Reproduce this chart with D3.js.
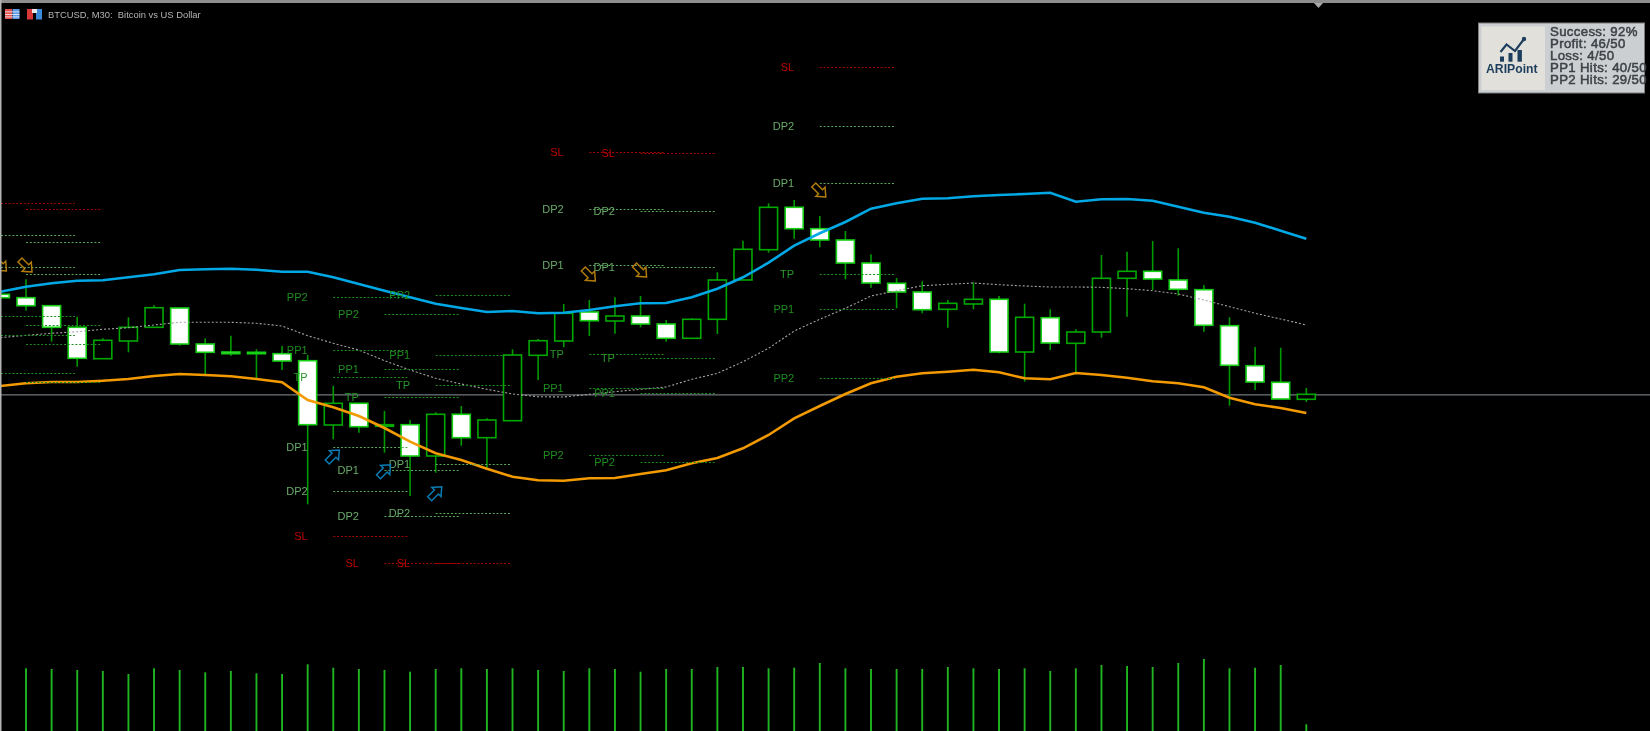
<!DOCTYPE html>
<html>
<head>
<meta charset="utf-8">
<title>BTCUSD, M30</title>
<script src="https://cdn.jsdelivr.net/npm/d3@7"></script>
<style>
html,body{margin:0;padding:0;background:#000;overflow:hidden}
svg{display:block;filter:blur(0.35px)}
text{font-family:"Liberation Sans",Arial,sans-serif}
</style>
</head>
<body>
<svg id="chart" width="1650" height="731"></svg>
<script>
const open  = [436.7,433.3,425.3,403.7,372.3,390,403.7,423,387,379,378.7,377.3,370.3,306,327.7,304.7,306.3,275,316.7,293.3,310.3,375.7,390,419,410,415,407,392.7,411.7,451,481.3,523.7,502.3,491,468,447.7,439,421.7,427,431.7,379,413.3,387.7,399,452.7,459.7,451,441.3,405.3,365.3,348.7,331.7];
const high  = [436.7,451.7,425.3,414.3,392.7,413.7,425.7,423,392.7,395.3,381.7,385,376,345.3,327.7,320,311,318.7,325,312.7,381.7,392,427,431,433.7,435,411,412.7,458.7,490.3,527.7,531,515,500,476.7,453,449.7,431,448.7,435,427.3,421.7,401.7,476,479.3,490,482.7,446,413.7,384,383.3,343];
const low   = [433.3,420.3,389.3,364.3,372.3,378.7,403.7,385.3,357,375.3,352.7,361,226.7,291.7,298.3,278.3,235,258.3,285.3,262.7,310.3,351,383.7,395,397.3,403.7,389.3,392,397,451,478.3,492.3,483.7,451.7,443.3,422.7,417.7,403.3,421.7,377.7,349.3,381,358.7,393.3,414.3,441,435.3,399.3,325.3,341,332,329];
const close = [433.3,425.3,403.7,372.7,390.7,403.7,423.3,387,378.7,377.3,377.3,370,306.3,327.7,304.3,306.3,275,316.7,293.3,311,376,390.3,417.7,410.3,415,407,392.7,411.7,451,481.7,523.7,502.3,491,468,448,439,421.3,427.7,431.7,379,413.7,388,399,452.7,459.7,452,441.7,405.7,365.7,349,332,336.7];
const volume = [0,62.7,62,61,60,57,62.7,61,58.7,60,57.7,57,66.7,63.3,62,61,59.3,62,62.7,62,62.7,61,60,62.7,62,59.3,62,62,64,64,62.7,63.3,68,62.7,62,62,62,64,62.7,62,62.7,60,62.7,66,65,64,68,72,62.7,63.3,66,6.7];

const upperBand = [439.3,444.3,447.7,450.3,450.7,453.7,456.7,461,461.7,462.3,461.3,459.3,459.3,453.7,447,440.3,433.7,427.3,423,419,420,417.7,418.3,421,424.7,427.7,428,433.7,442.3,453.7,468.3,485.3,497.7,509,522.3,527.7,532.3,532.7,534.7,536,537,538.3,529.3,531.7,532,530.3,524.3,518.3,514.3,508.3,500.3,492.3];
const lowerBand = [345,347.7,349,349,350.3,352,355,357,356,354.7,352,348.7,331,323.7,315,303,289.3,277.7,271,262.3,254.3,250.7,250.3,252.7,253,257,260.7,267.7,273,282.7,296,312.7,325,337,347.7,354.3,357.7,359.3,361.3,358.7,352.7,351.7,358,356,353.3,349.7,347.7,343.7,333.3,326.7,323,318];
const midBand   = [393.3,395.7,397.7,399.3,401.7,403.3,406,408.7,408.7,408.7,407.7,405,395.3,387.7,381,370.3,361,352.7,347,341.7,337,334.3,334,336.7,339.3,341.7,344,351.7,357.7,369.3,382.7,400,411.7,422.7,435,440.3,445.3,446.7,448,446.3,445,444,444,443.7,442.3,440.3,437,431,424.3,417.7,412,406];

const bidPrice = 336.5;

const levelNames = ["SL","DP2","DP1","TP","PP1","PP2"];
const signalStart = [0,1,13,15,17,23,25,32];
const slLevels  = [527.7,521.7,195,167.7,167.7,579,578.3,663.7];
const dp2Levels = [495.7,488.7,239.7,215.3,218.3,521.7,519.7,605.3];
const dp1Levels = [464.3,456.7,283.7,260.7,267,466.3,463.7,547.7];
const tpLevels  = [415,406,354.3,333.7,346.3,376.7,372.7,456.7];
const pp1Levels = [396,387,380.7,361.7,376,343,338.3,422.3];
const pp2Levels = [358.3,349,433.7,416.7,436,275.7,269.3,352.7];

const sellArrowIndex = [0,1,23,25,32];
const sellArrowPrice = [466,465,456,460,540];
const buyArrowIndex  = [13,15,17];
const buyArrowPrice  = [275,260.3,238.3];

const titleText = "BTCUSD, M30:  Bitcoin vs US Dollar";
const statLines = ["Success: 92%","Profit: 46/50","Loss: 4/50","PP1 Hits: 40/50","PP2 Hits: 29/50"];
const brandName = "ARIPoint";

const svg = d3.select("#chart");
const W = 1650, H = 731;

const x = d3.scaleLinear().domain([0,51]).range([0.4,1306.3]);
const y = d3.scaleLinear().domain([0,731]).range([731,0]);
const yVol = d3.scaleLinear().domain([0,72]).range([731,659]);
const bodyWidth = 18;

const levelRows = [
  {name:"SL",  values:slLevels,  line:"#a80000", label:"#c00000"},
  {name:"DP2", values:dp2Levels, line:"#5aa85a", label:"#68aa68"},
  {name:"DP1", values:dp1Levels, line:"#5aa85a", label:"#68aa68"},
  {name:"TP",  values:tpLevels,  line:"#1c8e1c", label:"#2a962a"},
  {name:"PP1", values:pp1Levels, line:"#1c8e1c", label:"#1f8c1f"},
  {name:"PP2", values:pp2Levels, line:"#1c8e1c", label:"#1f8c1f"}
];

// Price line
svg.append("line").attr("x1",0).attr("x2",W).attr("y1",y(bidPrice)+0.4).attr("y2",y(bidPrice)+0.4)
  .attr("stroke","#8a949c").attr("stroke-width",1);

// Volume
svg.append("g").selectAll("line").data(volume.map((v,i)=>({v,i})).filter(d=>d.v>0)).join("line")
  .attr("x1",d=>x(d.i)).attr("x2",d=>x(d.i))
  .attr("y1",d=>yVol(d.v)).attr("y2",yVol(0))
  .attr("stroke","#20b420").attr("stroke-width",1.9);

// Candles
const candles = open.map((o,i)=>({i,o,h:high[i],l:low[i],c:close[i]}));
const cg = svg.append("g");
cg.selectAll("line").data(candles).join("line")
  .attr("x1",d=>x(d.i)).attr("x2",d=>x(d.i))
  .attr("y1",d=>y(d.h)).attr("y2",d=>y(d.l))
  .attr("stroke","#009a00").attr("stroke-width",1.6);
cg.selectAll("rect").data(candles).join("rect")
  .attr("x",d=>x(d.i)-bodyWidth/2).attr("width",bodyWidth)
  .attr("y",d=>y(Math.max(d.o,d.c)))
  .attr("height",d=>Math.abs(d.o-d.c))
  .attr("fill",d=>d.c<d.o?"#ffffff":"#000000")
  .attr("stroke",d=>d.c<d.o?"#16d016":"#00a800")
  .attr("stroke-width",1.6);

// Bands
const line = d3.line().x((d,i)=>x(i)).y(d=>y(d));
svg.append("path").attr("d",line(midBand)).attr("fill","none")
  .attr("stroke","#a4a4a4").attr("stroke-width",1.1).attr("stroke-dasharray","2,2");
svg.append("path").attr("d",line(upperBand)).attr("fill","none")
  .attr("stroke","#00a8e6").attr("stroke-width",2.6);
svg.append("path").attr("d",line(lowerBand)).attr("fill","none")
  .attr("stroke","#f29a00").attr("stroke-width",2.6);

// Signal levels
const span = 2.91;
levelRows.forEach(row=>{
  const g = svg.append("g");
  g.selectAll("line").data(row.values.map((v,k)=>({v,s:signalStart[k]}))).join("line")
    .attr("x1",d=>d.s===0?x(0)-26:x(d.s))
    .attr("x2",d=>x(d.s+span))
    .attr("y1",d=>Math.round(y(d.v))+0.5).attr("y2",d=>Math.round(y(d.v))+0.5)
    .attr("stroke",row.line).attr("stroke-width",1).attr("stroke-dasharray","2,1.8");
  g.selectAll("text").data(row.values.map((v,k)=>({v,s:signalStart[k]})).filter(d=>d.s>1)).join("text")
    .attr("x",d=>x(d.s-1)).attr("y",d=>y(d.v)+4)
    .attr("text-anchor","end").attr("font-size",11).attr("fill",row.label)
    .text(row.name);
});

// Signal arrows
const arrowPath = "M0,-8.5L6.5,-1L2.8,-1L2.8,8.5L-2.8,8.5L-2.8,-1L-6.5,-1Z";
svg.append("g").selectAll("path").data(sellArrowIndex.map((s,k)=>({s,p:sellArrowPrice[k]}))).join("path")
  .attr("d",arrowPath)
  .attr("transform",d=>`translate(${x(d.s)},${y(d.p)}) rotate(135)`)
  .attr("fill","none").attr("stroke","#b07c0c").attr("stroke-width",1.5);
svg.append("g").selectAll("path").data(buyArrowIndex.map((s,k)=>({s,p:buyArrowPrice[k]}))).join("path")
  .attr("d",arrowPath)
  .attr("transform",d=>`translate(${x(d.s)},${y(d.p)}) rotate(45)`)
  .attr("fill","none").attr("stroke","#0a7cb4").attr("stroke-width",1.5);

// Window chrome
svg.append("rect").attr("x",0).attr("y",0).attr("width",W).attr("height",3).attr("fill","#8e8e8e");
svg.append("rect").attr("x",0).attr("y",0).attr("width",1.5).attr("height",H).attr("fill","#b4b4b4");
svg.append("path").attr("d","M1314,3L1323,3L1318.5,8Z").attr("fill","#a8a8a8");

// Header icons and title
const icon1 = svg.append("g").attr("transform","translate(5,9)");
icon1.append("rect").attr("width",7).attr("height",10).attr("fill","#e85050");
icon1.append("rect").attr("x",7.5).attr("width",7).attr("height",10).attr("fill","#5a9ae8");
[2.5,5,7.5].forEach(v=>icon1.append("rect").attr("y",v).attr("width",14.5).attr("height",0.8).attr("fill","#f0f0f0"));
const icon2 = svg.append("g").attr("transform","translate(27,8)");
icon2.append("rect").attr("y",1).attr("width",6).attr("height",10.5).attr("fill","#d83838");
icon2.append("rect").attr("x",9).attr("y",1).attr("width",6).attr("height",10.5).attr("fill","#3a8ad8");
icon2.append("rect").attr("x",5).attr("y",1).attr("width",5).attr("height",4).attr("fill","#e8e8e8");
svg.append("text").attr("x",48).attr("y",18).attr("font-size",9.4)
  .attr("fill","#b4b4b4").style("white-space","pre").text(titleText);

// Statistics panel
const panel = svg.append("g");
panel.append("rect").attr("x",1478.5).attr("y",23).attr("width",166).attr("height",70)
  .attr("fill","#cbcfd1").attr("stroke","#7c7c7c").attr("stroke-width",1);
panel.append("rect").attr("x",1481.5).attr("y",26.5).attr("width",63.5).attr("height",63.5).attr("fill","#e1e0db");
[[1500,56.5,4,5.2],[1508.5,53,4,8.7],[1517.5,50,4.4,11.7]].forEach(b=>
  panel.append("rect").attr("x",b[0]).attr("y",b[1]).attr("width",b[2]).attr("height",b[3]).attr("fill","#1d3d5c"));
panel.append("path").attr("d","M1500.5,52L1506.5,44.5L1515,51L1524,39").attr("fill","none")
  .attr("stroke","#1d3d5c").attr("stroke-width",2.1);
panel.append("circle").attr("cx",1524).attr("cy",39).attr("r",2.2).attr("fill","#1d3d5c");
panel.append("text").attr("x",1511.8).attr("y",73).attr("text-anchor","middle")
  .attr("font-size",12.2).attr("font-weight","bold").attr("fill","#1d3d5c").text(brandName);
panel.selectAll("text.stat").data(statLines).join("text").attr("class","stat")
  .attr("x",1550).attr("y",(d,i)=>36+i*11.95)
  .attr("font-size",13.2).attr("letter-spacing",0.35).attr("fill","#3e4246")
  .attr("stroke","#3e4246").attr("stroke-width",0.5).text(d=>d);
</script>
</body>
</html>
